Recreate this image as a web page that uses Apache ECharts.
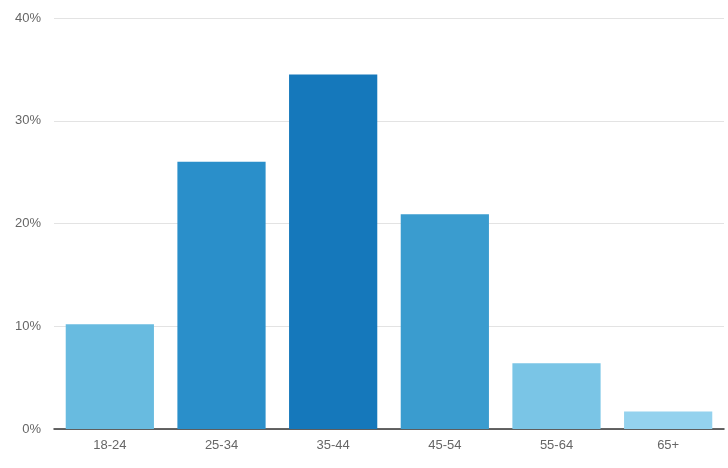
<!DOCTYPE html>
<html><head><meta charset="utf-8">
<script src="https://cdn.jsdelivr.net/npm/echarts@6/dist/echarts.min.js"></script>
<style>html,body{margin:0;padding:0;background:#fff}#c{width:728px;height:468px}</style>
</head><body><div id="c"></div>
<script>
const categories = ['18-24','25-34','35-44','45-54','55-64','65+'];
const values = [10.2, 26.0, 34.5, 20.9, 6.4, 1.7];
const barColors = ['#68bbe0','#2a8fca','#1578bb','#3a9ccf','#7ac5e6','#94d2ee'];
const yTicks = [0,10,20,30,40];

const chart = echarts.init(document.getElementById('c'), null, {renderer:'canvas'});
chart.setOption({
  animation:false,
  grid:{left:54,right:4,top:18,bottom:39,containLabel:false},
  xAxis:{type:'category',data:categories,
    axisLine:{lineStyle:{color:'#333',width:1.5}},
    axisTick:{show:false},
    axisLabel:{color:'#666',fontSize:13,fontFamily:'Helvetica, Arial, "Liberation Sans", sans-serif',margin:10}},
  yAxis:{type:'value',min:yTicks[0],max:yTicks[yTicks.length-1],interval:10,
    axisLine:{show:false},axisTick:{show:false},
    splitLine:{lineStyle:{color:'#e3e3e3',width:1}},
    axisLabel:{color:'#666',fontSize:13,fontFamily:'Helvetica, Arial, "Liberation Sans", sans-serif',margin:13,formatter:'{value}%'}},
  series:[{type:'bar',barCategoryGap:'21%',
    data:values.map((v,i)=>({value:v,itemStyle:{color:barColors[i]}}))}]
});
</script></body></html>
